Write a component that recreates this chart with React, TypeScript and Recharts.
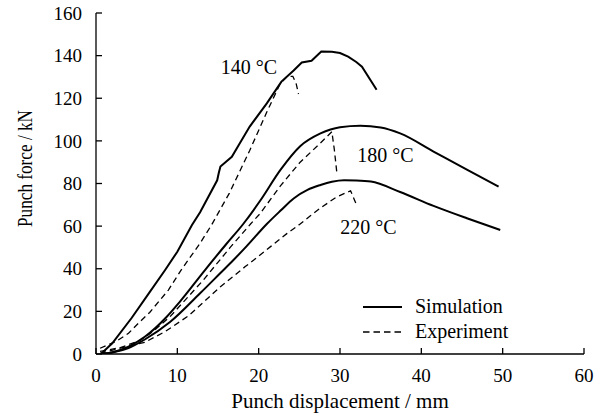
import React from 'react';
import { LineChart, Line, XAxis, YAxis, Legend, ReferenceDot } from 'recharts';

type Pt = [number, number];

const FONT = '"Liberation Serif", "Times New Roman", Times, serif';

const xTicks = [0, 10, 20, 30, 40, 50, 60];
const yTicks = [0, 20, 40, 60, 80, 100, 120, 140, 160];

// Simulation curves
const sim140: Pt[] = [
  [0.6, 0], [2, 5], [4.4, 17], [6.6, 29], [8.5, 39.4], [10, 48], [11.8, 60.5], [12.8, 66.5],
  [14.9, 81.5], [15.1, 85], [15.3, 88], [16.7, 92.5], [17.7, 99], [18.9, 106.7], [21, 117.6],
  [22.8, 127.8], [24.3, 133], [25.3, 136.8], [26.5, 137.6], [27.7, 141.9], [29, 141.8],
  [30, 141.2], [31, 139.5], [32, 137], [32.7, 134.8], [34.5, 124],
];
const sim180: Pt[] = [
  [0.5, 0], [2, 0.8], [4, 3.5], [6, 8.1], [8.7, 17.5], [10.3, 24.5], [13.4, 39.4], [16, 51.5],
  [18.1, 61], [20.2, 72], [22.7, 86.5], [25.1, 97.5], [27.6, 103.5], [30, 106.4], [32.5, 107.1],
  [35, 106.3], [37.4, 103.5], [41.5, 95], [45.6, 86.5], [49.5, 78.5],
];
const sim220: Pt[] = [
  [0.5, 0], [2, 0.7], [4, 2.8], [6, 6.8], [9.1, 15], [12.8, 28.5], [15.3, 38], [16.9, 44.1],
  [18.5, 50.5], [21, 61], [22.7, 67.3], [24.3, 73], [26, 77], [27.6, 79.3], [29, 80.8],
  [30.5, 81.5], [32, 81.4], [33.8, 80.9], [37.4, 76], [41.5, 69.5], [45.6, 63.7], [49.7, 58.2],
];

// Experiment curves
const exp140: Pt[] = [
  [0.5, 2.7], [2.5, 6], [4, 9.7], [5.2, 14.4], [6.6, 19.5], [8.9, 30], [10.4, 39], [12.8, 52],
  [14.2, 60.5], [16.4, 75.5], [18.9, 95.5], [21, 113.5], [22.6, 126.5], [23.5, 130.3],
  [24.2, 130.3], [24.6, 127], [24.9, 122],
];
const exp180: Pt[] = [
  [0.5, 1.2], [3, 3], [5.4, 6.3], [7, 10.5], [9.1, 17.5], [13.2, 34.7], [16.5, 50], [19, 61],
  [20.2, 66], [22.7, 79], [25.1, 90], [27.6, 99], [29, 104.3], [29.3, 96], [29.6, 85.5],
];
const exp220: Pt[] = [
  [0.5, 0.3], [3, 2.8], [6, 5.5], [8.5, 10.5], [11.4, 18], [15.3, 31.6], [18.35, 41],
  [19.4, 44.1], [21.5, 50.5], [23.5, 56.6], [25.1, 61], [26.4, 65], [27.6, 68.5], [29.5, 73.5],
  [31.3, 76.6], [31.7, 73], [32.1, 69.3],
];

const tempLabels = ['140 °C', '180 °C', '220 °C'];
const tempLabelX = [18.8, 35.6, 33.5];
const tempLabelY = [134.7, 93.5, 59.7];

const legendNames = ['Simulation', 'Experiment'];

const toRows = (pts: Pt[]) => pts.map(([x, y]) => ({ x, y }));

const simSeries = [sim140, sim180, sim220];
const expSeries = [exp140, exp180, exp220];

const renderYLabel = (props: any) => {
  const vb = (props && props.viewBox) || {};
  const x = (vb.x ?? 0) + 31.5;
  const y = (vb.y ?? 13) + (vb.height ?? 341) / 2 - 15;
  return (
    <text
      x={x}
      y={y}
      transform={`rotate(-90, ${x}, ${y})`}
      textAnchor="middle"
      fill="#000"
      fontSize={21}
      fontFamily={FONT}
      textLength={117}
      lengthAdjust="spacingAndGlyphs"
    >
      Punch force / kN
    </text>
  );
};

const renderLegend = () => (
  <div style={{ fontFamily: FONT, fontSize: 20, color: '#000' }}>
    {legendNames.map((name, i) => (
      <div key={name} style={{ display: 'flex', alignItems: 'center', height: 25 }}>
        <svg width={39} height={6} style={{ display: 'block' }}>
          <line
            x1={0}
            y1={3}
            x2={39}
            y2={3}
            stroke="#000"
            strokeWidth={i === 0 ? 2 : 1.3}
            strokeDasharray={i === 0 ? undefined : '6.5 4'}
          />
        </svg>
        <span style={{ marginLeft: 13, lineHeight: '25px' }}>{name}</span>
      </div>
    ))}
  </div>
);

export default function App() {
  const axisStyle = { stroke: '#000', strokeWidth: 1.3 };
  const tickStyle = { fill: '#000', fontSize: 19, fontFamily: FONT };
  return (
    <div style={{ position: 'absolute', left: 0, top: 0, width: 608, height: 420, background: '#fff' }}>
      <LineChart width={608} height={420} margin={{ top: 13, right: 24, bottom: 6, left: 0 }}>
        <XAxis
          type="number"
          dataKey="x"
          domain={[0, 60]}
          ticks={xTicks}
          allowDataOverflow
          height={60}
          tickSize={-6}
          tickMargin={21}
          axisLine={axisStyle}
          tickLine={axisStyle}
          tick={tickStyle}
          label={{
            value: 'Punch displacement / mm',
            position: 'insideBottom',
            offset: 6,
            fill: '#000',
            fontSize: 21,
            fontFamily: FONT,
          }}
        />
        <YAxis
          type="number"
          dataKey="y"
          domain={[0, 160]}
          ticks={yTicks}
          allowDataOverflow
          width={96}
          tickSize={-6}
          tickMargin={20}
          axisLine={axisStyle}
          tickLine={axisStyle}
          tick={tickStyle}
          label={renderYLabel}
        />
        {simSeries.map((s, i) => (
          <Line
            key={`sim${i}`}
            data={toRows(s)}
            dataKey="y"
            type={i === 0 ? 'linear' : 'monotone'}
            stroke="#000"
            strokeWidth={2}
            dot={false}
            activeDot={false}
            isAnimationActive={false}
            legendType="none"
          />
        ))}
        {expSeries.map((s, i) => (
          <Line
            key={`exp${i}`}
            data={toRows(s)}
            dataKey="y"
            type="linear"
            stroke="#000"
            strokeWidth={1.3}
            strokeDasharray="6 4"
            dot={false}
            activeDot={false}
            isAnimationActive={false}
            legendType="none"
          />
        ))}
        {tempLabels.map((t, i) => (
          <ReferenceDot
            key={t}
            x={tempLabelX[i]}
            y={tempLabelY[i]}
            r={0}
            fill="none"
            stroke="none"
            label={{ value: t, position: 'center', fill: '#000', fontSize: 20, fontFamily: FONT }}
          />
        ))}
        <Legend
          layout="vertical"
          align="center"
          verticalAlign="middle"
          wrapperStyle={{ left: 363, top: 294, width: 170, height: 50 }}
          content={renderLegend}
        />
      </LineChart>
    </div>
  );
}
